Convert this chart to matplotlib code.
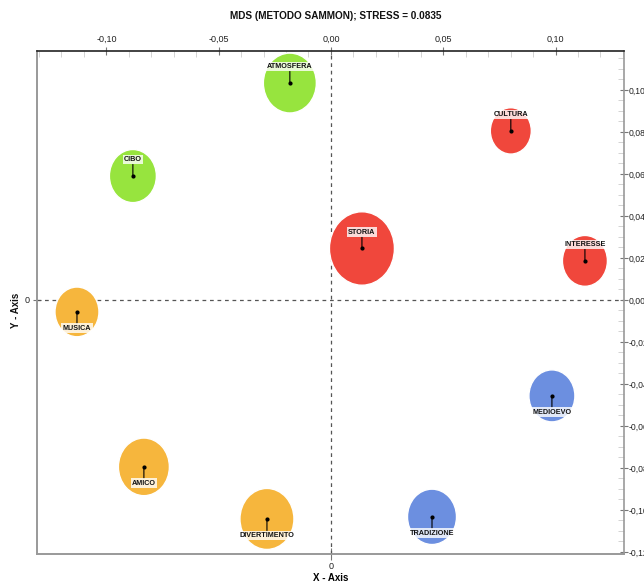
import matplotlib
matplotlib.use('Agg')
import matplotlib.pyplot as plt
from matplotlib.patches import Ellipse
from matplotlib.ticker import MultipleLocator, FuncFormatter

# ---- data ----
labels = ['ATMOSFERA', 'STORIA', 'CULTURA', 'INTERESSE', 'MUSICA',
          'CIBO', 'MEDIOEVO', 'AMICO', 'DIVERTIMENTO', 'TRADIZIONE']
x_vals = [-0.0183, 0.0138, 0.0801, 0.1131, -0.1131,
          -0.0882, 0.0984, -0.0833, -0.0285, 0.0450]
y_vals = [0.1033, 0.0245, 0.0805, 0.0186, -0.0057,
          0.0590, -0.0457, -0.0795, -0.1043, -0.1033]
bubble_size = [53, 65, 41, 45, 44, 47, 46, 51, 54, 49]
clusters = [0, 1, 1, 1, 2, 0, 3, 2, 2, 3]
title = 'MDS (METODO SAMMON); STRESS = 0.0835'

cluster_colors = ['#97E43E', '#F0473C', '#F6B63D', '#6C8FE0']

plt.rcParams['font.family'] = ['Liberation Sans Narrow', 'Liberation Sans', 'DejaVu Sans']

W, H = 644, 583
fig = plt.figure(figsize=(W / 100, H / 100), dpi=100)
L, R, T, B = 37, 624, 50.7, 554
ax = fig.add_axes([L / W, 1 - B / H, (R - L) / W, (B - T) / H])
xlim = (-0.1309, 0.1305)
ylim = (-0.1210, 0.1187)
ax.set_xlim(*xlim)
ax.set_ylim(*ylim)

dx_px = (xlim[1] - xlim[0]) / (R - L)
dy_px = (ylim[1] - ylim[0]) / (B - T)

ax.axhline(0, color='#555555', lw=0.9, ls=(0, (3, 3)), zorder=1)
ax.axvline(0, color='#555555', lw=0.9, ls=(0, (3, 3)), zorder=1)

for lab, x, y, s, c in zip(labels, x_vals, y_vals, bubble_size, clusters):
    col = cluster_colors[c]
    e = Ellipse((x, y), width=s * dx_px, height=s * 1.13 * dy_px,
                facecolor=col, edgecolor='#ffffff', lw=1.0, zorder=2)
    ax.add_patch(e)
    ax.plot([x], [y], 'o', ms=2.0, color='black', zorder=4)
    off = 11.8 if y > 0 else -11.8
    ax.annotate(lab, (x, y), xytext=(0, off), textcoords='offset points',
                ha='center', va='center', fontsize=5.2, fontweight='bold',
                color='#111111',
                bbox=dict(boxstyle='square,pad=0.18', fc='white', ec='none', alpha=0.8),
                arrowprops=dict(arrowstyle='-', color='black', lw=0.8,
                                shrinkA=0, shrinkB=0),
                zorder=5)

fmt = FuncFormatter(lambda v, p: ('%.2f' % (0.0 if abs(v) < 1e-9 else v)).replace('.', ','))

ax.xaxis.tick_top()
ax.yaxis.tick_right()
ax.xaxis.set_major_locator(MultipleLocator(0.05))
ax.xaxis.set_minor_locator(MultipleLocator(0.01))
ax.yaxis.set_major_locator(MultipleLocator(0.02))
ax.yaxis.set_minor_locator(MultipleLocator(0.005))
ax.xaxis.set_major_formatter(fmt)
ax.yaxis.set_major_formatter(fmt)
ax.tick_params(axis='x', which='major', direction='inout', length=6,
               color='#777777', labelsize=6.5, pad=2, labelcolor='#222222')
ax.tick_params(axis='y', which='major', direction='inout', length=6,
               color='#777777', labelsize=6.2, pad=0.5, labelcolor='#222222')
ax.tick_params(axis='both', which='minor', direction='in', length=4,
               color='#cccccc')

for sp in ['left', 'right', 'bottom']:
    ax.spines[sp].set_color('#999999')
    ax.spines[sp].set_linewidth(1.2)
ax.spines['top'].set_color('#222222')
ax.spines['top'].set_linewidth(1.2)

secx = ax.secondary_xaxis('bottom')
secx.set_xticks([0])
secx.set_xticklabels(['0'])
secx.tick_params(direction='inout', length=8, color='#777777', labelsize=6.5, pad=2,
                 labelcolor='#222222')
secx.spines['bottom'].set_color('#999999')
secx.spines['bottom'].set_linewidth(1.2)
secx.set_xlabel('X - Axis', fontsize=7, fontweight='bold', labelpad=1)

secy = ax.secondary_yaxis('left')
secy.set_yticks([0])
secy.set_yticklabels(['0'])
secy.tick_params(direction='inout', length=6, color='#777777', labelsize=6.5, pad=2,
                 labelcolor='#222222')
secy.spines['left'].set_color('#999999')
secy.spines['left'].set_linewidth(1.2)

fig.text(16 / W, 1 - 310 / H, 'Y - Axis', rotation=90, ha='center', va='center',
         fontsize=7, fontweight='bold', color='#111111')

fig.text(336 / W, 1 - 16 / H, title, ha='center', va='center',
         fontsize=7.2, fontweight='bold', color='#111111')

fig.savefig('out.png', dpi=100, facecolor='white')
